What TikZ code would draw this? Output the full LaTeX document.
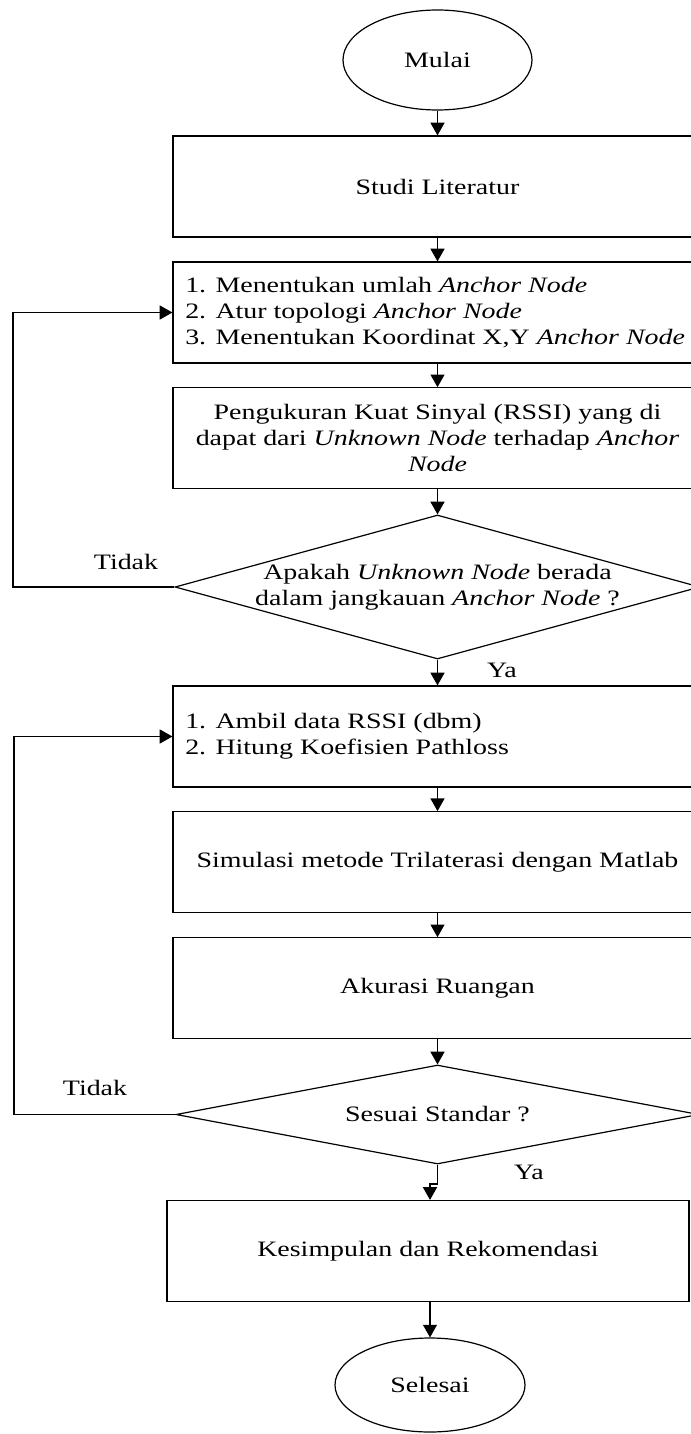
\documentclass[tikz,border=0pt]{standalone}
\usepackage{fontspec}
\setmainfont{Liberation Serif}[FakeStretch=1.27,
  UprightFont=Liberation Serif, ItalicFont=Liberation Serif Italic,
  BoldFont=Liberation Serif Bold, BoldItalicFont=Liberation Serif Bold Italic]
\usetikzlibrary{shapes.geometric,arrows.meta}
\begin{document}
\begin{tikzpicture}[x=0.75pt,y=-0.75pt,
  every node/.style={font=\fontsize{16.5}{19.5}\selectfont, inner sep=0pt},
  box/.style={draw, line width=0.9pt, minimum width=396.75pt, minimum height=75.75pt, align=center},
  term/.style={draw, ellipse, line width=0.9pt, minimum width=141.75pt, minimum height=75pt},
  dec/.style={draw, diamond, line width=0.9pt},
  txt/.style={align=center},
  ltxt/.style={anchor=west, align=left},
  arr/.style={line width=0.9pt, -{Triangle[length=9.5pt,width=10.5pt]}},
  ln/.style={line width=0.9pt}]
\useasboundingbox (0,0) rectangle (691,1434);
\fill[white] (0,0) rectangle (691,1434);

\node[term] (mulai) at (437.5,60) {Mulai};
\node[box] (studi) at (437.5,186.5) {Studi Literatur};
\node[box] (b2) at (437.5,312.5) {};
\node[ltxt] (b2t) at (185,312.5) {1. Menentukan umlah \textit{Anchor Node}\\2. Atur topologi \textit{Anchor Node}\\3. Menentukan Koordinat X,Y \textit{Anchor Node}};
\node[box] (b3) at (437.5,438.3) {Pengukuran Kuat Sinyal (RSSI) yang di\\dapat dari \textit{Unknown Node} terhadap \textit{Anchor}\\\textit{Node}};
\node[dec, minimum width=393.75pt, minimum height=108pt] (d1) at (437.5,587) {};
\node[txt] (d1t) at (437.5,587) {Apakah \textit{Unknown Node} berada\\dalam jangkauan \textit{Anchor Node} ?};
\node[box] (b4) at (437.5,736.5) {};
\node[ltxt] (b4t) at (185,736.5) {1. Ambil data RSSI (dbm)\\2. Hitung Koefisien Pathloss};
\node[box] (b5) at (437.5,862.2) {Simulasi metode Trilaterasi dengan Matlab};
\node[box] (b6) at (437.5,988.3) {Akurasi Ruangan};
\node[dec, minimum width=392.25pt, minimum height=74.25pt] (d2) at (437.5,1114.5) {};
\node[txt] (d2t) at (437.5,1114.5) {Sesuai Standar ?};
\node[box, minimum width=391.5pt] (b7) at (428,1251) {Kesimpulan dan Rekomendasi};
\node[term, minimum width=142.5pt, minimum height=70.5pt] (sel) at (430,1385) {Selesai};

\node (tidak1) at (126,562) {Tidak};
\node (ya1) at (502,670) {Ya};
\node (tidak2) at (95,1088) {Tidak};
\node (ya2) at (529,1172) {Ya};

\coordinate (l1) at (13,587);
\coordinate (l2) at (14,1114.5);
\coordinate (j1) at (437.5,1184);

\draw[arr] (mulai) -- (studi);
\draw[arr] (studi) -- (b2);
\draw[arr] (b2) -- (b3);
\draw[arr] (b3) -- (d1);
\draw[arr] (d1) -- (b4);
\draw[arr] (d1.west) -- (l1) |- (b2.west);
\draw[arr] (b4) -- (b5);
\draw[arr] (b5) -- (b6);
\draw[arr] (b6) -- (d2);
\draw[arr] (d2.west) -- (l2) |- (b4.west);
\draw[arr] (d2.south) -- (j1) -- (j1 -| sel.north) -- (b7.north -| sel.north);
\draw[arr] (b7.south -| sel.north) -- (sel.north);
\end{tikzpicture}
\end{document}
